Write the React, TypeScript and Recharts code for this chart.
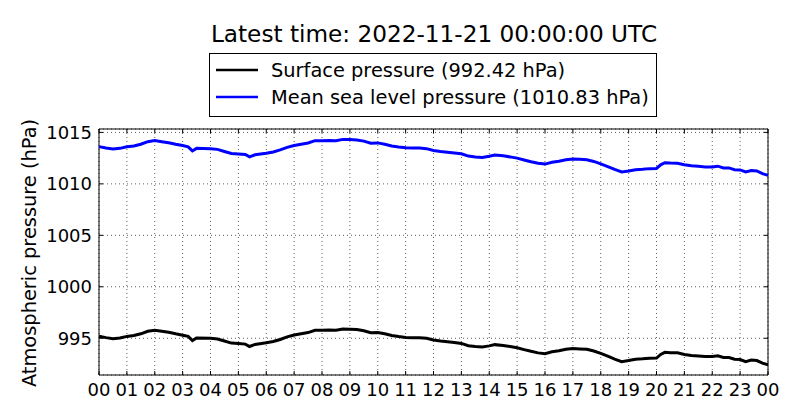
import React from "react";
import { CartesianGrid, Line, LineChart, ReferenceArea, XAxis, YAxis } from "recharts";

const FONT = "'DejaVu Sans', sans-serif";

// hours after 2022-11-20 00:00 UTC
const HOURS = [
  0, 0.25, 0.5, 0.75, 1, 1.25, 1.5, 1.75, 2, 2.25, 2.5, 2.75, 3, 3.2, 3.35, 3.5,
  4, 4.25, 4.5, 4.75, 5, 5.25, 5.4, 5.6, 6, 6.25, 6.5, 6.75, 7, 7.25, 7.5, 7.75,
  8, 8.25, 8.5, 8.75, 9, 9.25, 9.5, 9.75, 10, 10.25, 10.5, 10.75, 11, 11.25, 11.5, 11.75,
  12, 12.25, 12.5, 12.75, 13, 13.25, 13.5, 13.75, 14, 14.2, 14.5, 14.75, 15, 15.25, 15.5, 15.75,
  16, 16.25, 16.5, 16.75, 17, 17.25, 17.5, 17.75, 18, 18.25, 18.5, 18.75, 19, 19.25, 19.5, 19.75,
  20, 20.15, 20.3, 20.5, 20.75, 21, 21.25, 21.5, 21.75, 22, 22.2, 22.4, 22.6, 22.8, 23, 23.2,
  23.4, 23.6, 23.8, 24,
];

// mean sea level pressure (hPa)
const MSL = [
  1013.62, 1013.48, 1013.38, 1013.45, 1013.6, 1013.68, 1013.85, 1014.1, 1014.2, 1014.1, 1014.0, 1013.85, 1013.72, 1013.6, 1013.2, 1013.45,
  1013.42, 1013.35, 1013.15, 1012.95, 1012.9, 1012.85, 1012.62, 1012.82, 1012.98, 1013.1, 1013.3, 1013.55, 1013.73, 1013.85, 1013.97, 1014.2,
  1014.2, 1014.22, 1014.2, 1014.32, 1014.3, 1014.27, 1014.15, 1013.95, 1013.98, 1013.85, 1013.68, 1013.58, 1013.5, 1013.48, 1013.48, 1013.42,
  1013.25, 1013.15, 1013.08, 1013.0, 1012.92, 1012.7, 1012.62, 1012.57, 1012.68, 1012.8, 1012.72, 1012.62, 1012.5, 1012.32, 1012.15, 1012.0,
  1011.92, 1012.1, 1012.2, 1012.35, 1012.42, 1012.38, 1012.35, 1012.18, 1011.95, 1011.68, 1011.4, 1011.15, 1011.25, 1011.38, 1011.42, 1011.48,
  1011.5, 1011.85, 1012.05, 1012.02, 1012.0, 1011.85, 1011.75, 1011.7, 1011.65, 1011.65, 1011.72, 1011.55, 1011.55, 1011.38, 1011.35, 1011.15,
  1011.3, 1011.25, 1011.0, 1010.83,
];

// surface pressure (hPa)
const SFC = [
  995.2, 995.06, 994.95, 995.03, 995.18, 995.26, 995.43, 995.68, 995.78, 995.68, 995.58, 995.43, 995.3, 995.18, 994.78, 995.03,
  995.0, 994.93, 994.73, 994.53, 994.48, 994.43, 994.2, 994.4, 994.56, 994.68, 994.88, 995.13, 995.31, 995.43, 995.55, 995.78,
  995.78, 995.8, 995.78, 995.9, 995.88, 995.85, 995.73, 995.53, 995.56, 995.43, 995.26, 995.16, 995.08, 995.06, 995.06, 995.0,
  994.83, 994.73, 994.66, 994.58, 994.5, 994.28, 994.2, 994.15, 994.26, 994.38, 994.3, 994.2, 994.08, 993.9, 993.73, 993.58,
  993.5, 993.68, 993.78, 993.93, 994.0, 993.96, 993.93, 993.76, 993.53, 993.26, 992.98, 992.73, 992.83, 992.96, 993.0, 993.06,
  993.08, 993.43, 993.63, 993.6, 993.58, 993.43, 993.33, 993.28, 993.23, 993.23, 993.3, 993.13, 993.13, 992.96, 992.93, 992.73,
  992.88, 992.83, 992.58, 992.42,
];

const X_TICKS = [0, 1, 2, 3, 4, 5, 6, 7, 8, 9, 10, 11, 12, 13, 14, 15, 16, 17, 18, 19, 20, 21, 22, 23, 24];
const Y_TICKS = [995, 1000, 1005, 1010, 1015];
const Y_MIN = 991.43;
const Y_MAX = 1015.33;

const TITLE = "Latest time: 2022-11-21 00:00:00 UTC";
const SFC_LABEL = "Surface pressure (992.42 hPa)";
const MSL_LABEL = "Mean sea level pressure (1010.83 hPa)";

const W = 800;
const H = 420;
const PLOT_L = 99;
const PLOT_R = 768;
const PLOT_T = 129;
const PLOT_B = 375;

const data = HOURS.map((h, i) => ({ h, sfc: SFC[i], msl: MSL[i] }));

const hourLabel = (h: number) => String(h % 24).padStart(2, "0");

const XTick = (props: any) => {
  const { x, payload } = props;
  return (
    <g>
      <line x1={x} x2={x} y1={PLOT_B} y2={PLOT_B - 4} stroke="#000" />
      <line x1={x} x2={x} y1={PLOT_T} y2={PLOT_T + 4} stroke="#000" />
      <text x={x} y={PLOT_B + 14} textAnchor="middle" dominantBaseline="central" fontSize={18} fontFamily={FONT} fill="#000">
        {hourLabel(payload.value)}
      </text>
    </g>
  );
};

const YTick = (props: any) => {
  const { y, payload } = props;
  return (
    <g>
      <line x1={PLOT_L} x2={PLOT_L + 4} y1={y} y2={y} stroke="#000" />
      <line x1={PLOT_R} x2={PLOT_R - 4} y1={y} y2={y} stroke="#000" />
      <text x={PLOT_L - 7} y={y} textAnchor="end" dominantBaseline="central" fontSize={18} fontFamily={FONT} fill="#000">
        {payload.value}
      </text>
    </g>
  );
};

export default function App() {
  return (
    <div style={{ position: "fixed", left: 0, top: 0, width: W, height: H, background: "#fff" }}>
      <svg width={W} height={H} style={{ position: "absolute", left: 0, top: 0 }}>
        <text x={434} y={42} textAnchor="middle" fontSize={23.2} fontFamily={FONT} fill="#000">
          {TITLE}
        </text>
        <rect x={209.5} y={53.5} width={447} height={63} fill="#fff" stroke="#000" strokeWidth={1} />
        <line x1={216} x2={258} y1={70} y2={70} stroke="#000" strokeWidth={2.5} />
        <text x={271} y={70} dominantBaseline="central" fontSize={19.4} fontFamily={FONT} fill="#000">
          {SFC_LABEL}
        </text>
        <line x1={216} x2={258} y1={97} y2={97} stroke="#0000ff" strokeWidth={2.5} />
        <text x={271} y={97} dominantBaseline="central" fontSize={19.4} fontFamily={FONT} fill="#000">
          {MSL_LABEL}
        </text>
        <text
          x={29}
          y={253}
          textAnchor="middle"
          dominantBaseline="central"
          fontSize={19.4}
          fontFamily={FONT}
          fill="#000"
          transform="rotate(-90 29 253)"
        >
          Atmospheric pressure (hPa)
        </text>
      </svg>
      <div style={{ position: "absolute", left: 0, top: 0 }}>
        <LineChart
          width={W}
          height={H}
          data={data}
          margin={{ top: PLOT_T, right: W - PLOT_R, bottom: 0, left: 0 }}
        >
          <CartesianGrid stroke="#000" strokeOpacity={0.8} strokeDasharray="1 3" strokeWidth={0.8} />
          <XAxis
            dataKey="h"
            type="number"
            domain={[0, 24]}
            ticks={X_TICKS}
            interval={0}
            height={H - PLOT_B}
            axisLine={false}
            tickLine={false}
            tickSize={0}
            tick={<XTick />}
          />
          <YAxis
            type="number"
            domain={[Y_MIN, Y_MAX]}
            ticks={Y_TICKS}
            allowDataOverflow
            width={PLOT_L}
            axisLine={false}
            tickLine={false}
            tickSize={0}
            tick={<YTick />}
          />
          <Line dataKey="sfc" type="linear" stroke="#000" strokeWidth={3} dot={false} isAnimationActive={false} />
          <Line dataKey="msl" type="linear" stroke="#0000ff" strokeWidth={3} dot={false} isAnimationActive={false} />
          <ReferenceArea x1={0} x2={24} y1={Y_MIN} y2={Y_MAX} fill="none" stroke="#000" strokeWidth={1} fillOpacity={0} />
        </LineChart>
      </div>
    </div>
  );
}
